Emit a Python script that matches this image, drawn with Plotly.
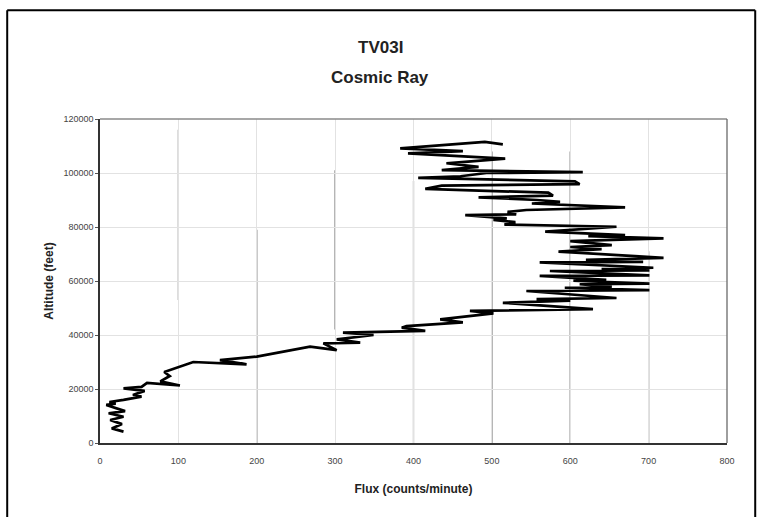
import plotly.graph_objects as go

# Cosmic ray flux profile for flight TV03I (ascending through the sounding)
flux_cpm = [
    30, 15, 28, 13, 30, 11, 32, 8, 20, 12, 30, 53, 42, 57, 30, 53, 60, 102, 77, 89,
    82, 119, 187, 153, 200, 268, 302, 285, 332, 302, 349, 310, 415, 385, 391, 463,
    434, 502, 472, 629, 514, 600, 557, 659, 544, 701, 593, 653, 612, 701, 604, 646,
    561, 701, 574, 701, 640, 706, 561, 693, 620, 719, 585, 640, 600, 653, 600, 719,
    623, 670, 568, 659, 516, 530, 502, 519, 466, 531, 520, 544, 670, 551, 587, 558,
    483, 578, 572, 415, 436, 612, 606, 406, 460, 493, 616, 436, 483, 442, 517, 393,
    463, 383, 491, 514,
]
altitude_ft = [
    4200, 5400, 7000, 8500, 9700, 11000, 11800, 14100, 14600, 15200, 16000, 17200,
    17800, 19300, 20200, 20800, 22300, 21300, 22800, 24800, 26300, 30000, 29100,
    30700, 32000, 35700, 34400, 36900, 37200, 38400, 40000, 40900, 41500, 42700,
    43300, 44700, 45800, 48000, 48900, 49600, 51900, 52700, 53300, 53700, 56300,
    56600, 57500, 57800, 58800, 59000, 60100, 60400, 61900, 62100, 63700, 63900,
    64400, 64900, 66900, 67100, 67800, 68600, 70900, 71800, 72600, 73300, 74800,
    75800, 76600, 77000, 78300, 80100, 80900, 81800, 82600, 83200, 84400, 84700,
    85600, 86300, 87300, 88700, 89300, 90000, 91000, 91600, 92700, 94100, 95300,
    95900, 96900, 98200, 98800, 100000, 100300, 101100, 102300, 103600, 105300,
    107300, 108100, 109100, 111500, 110600,
]

x_ticks = [0, 100, 200, 300, 400, 500, 600, 700, 800]
y_ticks = [0, 20000, 40000, 60000, 80000, 100000, 120000]

# darker stretches of the printed vertical gridlines: (flux, alt from, alt to)
grid_streaks = [
    (100, 53000, 116000),
    (200, 0, 79000),
    (300, 42000, 101000),
    (400, 0, 97000),
    (500, 0, 108000),
    (600, 0, 108000),
    (700, 0, 71000),
]

fig = go.Figure()
fig.add_trace(go.Scatter(
    x=flux_cpm, y=altitude_ft, mode="lines",
    line=dict(color="black", width=2.7),
    showlegend=False, hoverinfo="skip",
))

shapes = []
for gx, y0, y1 in grid_streaks:
    shapes.append(dict(type="line", xref="x", yref="y", x0=gx, x1=gx, y0=y0, y1=y1,
                       line=dict(color="#666666", width=1.2), layer="below"))
# top and right border of the plot area are drawn lighter than the axes
shapes.append(dict(type="line", xref="x domain", yref="y domain", x0=0, x1=1, y0=1, y1=1,
                   line=dict(color="#8a8a8a", width=1.3)))
shapes.append(dict(type="line", xref="x domain", yref="y domain", x0=1, x1=1, y0=0, y1=1,
                   line=dict(color="#6a6a6a", width=1.3)))
# outer frame of the page
fx0, fx1, fy1 = -0.148, 1.045, 1.336
shapes.append(dict(type="line", xref="paper", yref="paper", x0=fx0, x1=fx0, y0=-0.3, y1=fy1,
                   line=dict(color="black", width=2)))
shapes.append(dict(type="line", xref="paper", yref="paper", x0=fx0, x1=fx1, y0=fy1, y1=fy1,
                   line=dict(color="black", width=2)))
shapes.append(dict(type="line", xref="paper", yref="paper", x0=fx1, x1=fx1, y0=-0.3, y1=fy1,
                   line=dict(color="black", width=2)))

font_main = "Liberation Sans, Arial, sans-serif"

annotations = [
    dict(text="<b>TV03I</b>", xref="paper", yref="paper", x=0.447, y=1.222,
         xanchor="center", yanchor="middle", showarrow=False,
         font=dict(size=17, color="#222", family=font_main)),
    dict(text="<b>Cosmic Ray</b>", xref="paper", yref="paper", x=0.447, y=1.127,
         xanchor="center", yanchor="middle", showarrow=False,
         font=dict(size=17, color="#222", family=font_main)),
]

fig.update_layout(
    width=764, height=517,
    margin=dict(l=100, r=37, t=119, b=74),
    paper_bgcolor="white", plot_bgcolor="white",
    font=dict(family=font_main, color="#222"),
    shapes=shapes,
    annotations=annotations,
    xaxis=dict(
        range=[0, 800], tickvals=x_ticks, ticktext=[str(v) for v in x_ticks],
        showgrid=True, gridcolor="#e2e2e2", gridwidth=1,
        showline=True, linecolor="#333", linewidth=1.5,
        ticks="", tickfont=dict(size=9, color="#444"), ticklabelstandoff=8,
        zeroline=False,
        title=dict(text="<b>Flux (counts/minute)</b>", font=dict(size=12, color="#222"), standoff=20),
    ),
    yaxis=dict(
        range=[0, 120000], tickvals=y_ticks, ticktext=[str(v) for v in y_ticks],
        showgrid=True, gridcolor="#e2e2e2", gridwidth=1,
        showline=True, linecolor="#333", linewidth=1.5,
        ticks="outside", ticklen=3, tickcolor="#555",
        tickfont=dict(size=9, color="#444"),
        zeroline=False,
        title=dict(text="<b>Altitude (feet)</b>", font=dict(size=12, color="#222"), standoff=7),
    ),
)

fig.write_html("out.html")
